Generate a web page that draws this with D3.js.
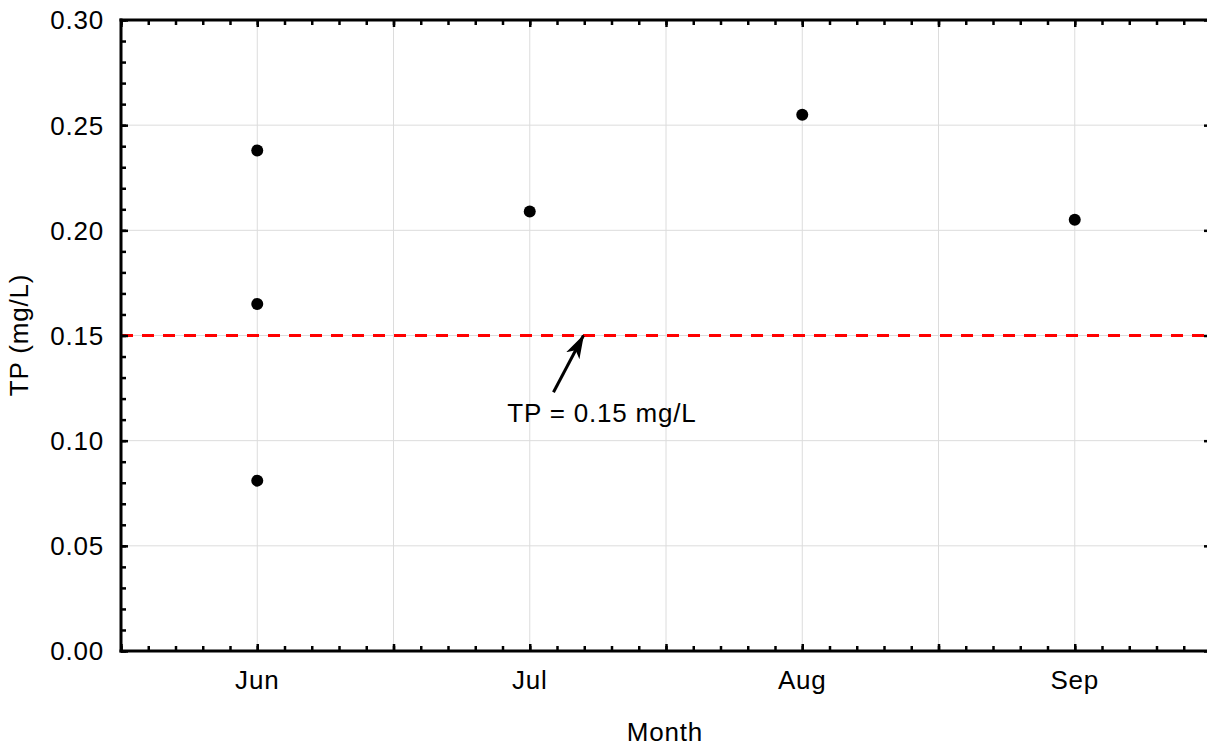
<!DOCTYPE html>
<html>
<head>
<meta charset="utf-8">
<script src="https://cdn.jsdelivr.net/npm/d3@7"></script>
<style>
  html, body { margin: 0; padding: 0; background: #fff; }
  svg text { font-family: "Liberation Sans", Arial, sans-serif; fill: #000; }
</style>
</head>
<body>
<svg id="chart" width="1207" height="751"></svg>
<script>
// ---- data ----
const months = ["Jun", "Jul", "Aug", "Sep"];
const pointMonth = [0, 0, 0, 1, 2, 3];
const pointTP = [0.238, 0.165, 0.081, 0.209, 0.255, 0.205];
const yTicks = [0.00, 0.05, 0.10, 0.15, 0.20, 0.25, 0.30];
const threshold = 0.15;
const annotationText = "TP = 0.15 mg/L";
const arrowFrom = [1.087, 0.123];
const arrowTo = [1.197, 0.150];
const labelAt = [1.265, 0.109];

(function () {
// ---- layout ----
const pL = 121, pR = 1211, pT = 20, pB = 651;
const svg = d3.select("#chart");

const x = d3.scaleLinear().domain([-0.5, 3.5]).range([pL, pR]);
const y = d3.scaleLinear().domain([0, 0.30]).range([pB, pT]);

const fontSize = 26, ls = "0.8px";

// grid
const gridX = d3.range(0, 3.51, 0.5);
svg.append("g").selectAll("line").data(gridX).join("line")
  .attr("x1", d => x(d)).attr("x2", d => x(d))
  .attr("y1", pT).attr("y2", pB)
  .attr("stroke", "#dcdcdc").attr("stroke-width", 1);
svg.append("g").selectAll("line").data(yTicks.slice(1, -1)).join("line")
  .attr("x1", pL).attr("x2", pR)
  .attr("y1", d => y(d)).attr("y2", d => y(d))
  .attr("stroke", "#dcdcdc").attr("stroke-width", 1);

// threshold line
svg.append("line")
  .attr("x1", pL).attr("x2", pR)
  .attr("y1", y(threshold)).attr("y2", y(threshold))
  .attr("stroke", "#ff0000").attr("stroke-width", 2.8)
  .attr("stroke-dasharray", "12,9");

// axes helpers
const xMinor = d3.range(-0.5, 3.51, 0.1).map(v => Math.round(v * 10) / 10);
const xMajor = d3.range(-0.5, 3.51, 0.5);
const yMinor = d3.range(0, 0.3001, 0.01).map(v => Math.round(v * 100) / 100);

function styleAxis(g) {
  g.selectAll(".domain").remove();
  g.selectAll(".tick line").attr("stroke", "#000").attr("stroke-width", 2.5);
  g.selectAll(".tick text").remove();
}

svg.append("g").attr("transform", `translate(0,${pB})`)
  .call(d3.axisBottom(x).tickValues(xMinor).tickSize(-5).tickFormat("")).call(styleAxis);
svg.append("g").attr("transform", `translate(0,${pB})`)
  .call(d3.axisBottom(x).tickValues(xMajor).tickSize(-7).tickFormat("")).call(styleAxis);
svg.append("g").attr("transform", `translate(0,${pT})`)
  .call(d3.axisTop(x).tickValues(xMinor).tickSize(-5).tickFormat("")).call(styleAxis);
svg.append("g").attr("transform", `translate(0,${pT})`)
  .call(d3.axisTop(x).tickValues(xMajor).tickSize(-7).tickFormat("")).call(styleAxis);
svg.append("g").attr("transform", `translate(${pL},0)`)
  .call(d3.axisLeft(y).tickValues(yMinor).tickSize(-5).tickFormat("")).call(styleAxis);
svg.append("g").attr("transform", `translate(${pL},0)`)
  .call(d3.axisLeft(y).tickValues(yTicks).tickSize(-7).tickFormat("")).call(styleAxis);
svg.append("g").attr("transform", `translate(${pR - 3},0)`)
  .call(d3.axisRight(y).tickValues(yTicks).tickSize(-4).tickFormat("")).call(styleAxis);

// frame lines
svg.append("line").attr("x1", pL).attr("x2", pL).attr("y1", pT - 1.5).attr("y2", pB + 1.5)
  .attr("stroke", "#000").attr("stroke-width", 3);
svg.append("line").attr("x1", pL - 1.5).attr("x2", pR).attr("y1", pB).attr("y2", pB)
  .attr("stroke", "#000").attr("stroke-width", 3);
svg.append("line").attr("x1", pL - 1.5).attr("x2", pR).attr("y1", pT).attr("y2", pT)
  .attr("stroke", "#000").attr("stroke-width", 3);

// tick labels
svg.append("g").selectAll("text").data(yTicks).join("text")
  .attr("x", 104).attr("y", d => y(d)).attr("dy", "0.36em")
  .attr("text-anchor", "end").attr("font-size", fontSize).attr("letter-spacing", ls)
  .text(d => d3.format(".2f")(d));
svg.append("g").selectAll("text").data(months).join("text")
  .attr("x", (d, i) => x(i)).attr("y", 689)
  .attr("text-anchor", "middle").attr("font-size", fontSize).attr("letter-spacing", ls)
  .text(d => d);

// axis titles
svg.append("text").attr("x", 665).attr("y", 741)
  .attr("text-anchor", "middle").attr("font-size", fontSize).attr("letter-spacing", ls)
  .text("Month");
svg.append("text").attr("transform", "translate(28,335) rotate(-90)")
  .attr("text-anchor", "middle").attr("font-size", fontSize).attr("letter-spacing", ls)
  .text("TP (mg/L)");

// points
svg.append("g").selectAll("circle").data(pointTP).join("circle")
  .attr("cx", (d, i) => x(pointMonth[i])).attr("cy", d => y(d))
  .attr("r", 6).attr("fill", "#000");

// annotation arrow
svg.append("defs").append("marker")
  .attr("id", "arr").attr("viewBox", "0 0 10 10").attr("refX", 9.5).attr("refY", 5)
  .attr("markerWidth", 24).attr("markerHeight", 15).attr("markerUnits", "userSpaceOnUse")
  .attr("preserveAspectRatio", "none")
  .attr("orient", "auto")
  .append("path").attr("d", "M0,0 L10,5 L0,10 L2.5,5 Z").attr("fill", "#000");
svg.append("line")
  .attr("x1", x(arrowFrom[0])).attr("y1", y(arrowFrom[1]))
  .attr("x2", x(arrowTo[0])).attr("y2", y(arrowTo[1]))
  .attr("stroke", "#000").attr("stroke-width", 3)
  .attr("marker-end", "url(#arr)");
svg.append("text").attr("x", x(labelAt[0])).attr("y", y(labelAt[1]))
  .attr("text-anchor", "middle").attr("font-size", fontSize).attr("letter-spacing", ls)
  .text(annotationText);
})();
</script>
</body>
</html>
